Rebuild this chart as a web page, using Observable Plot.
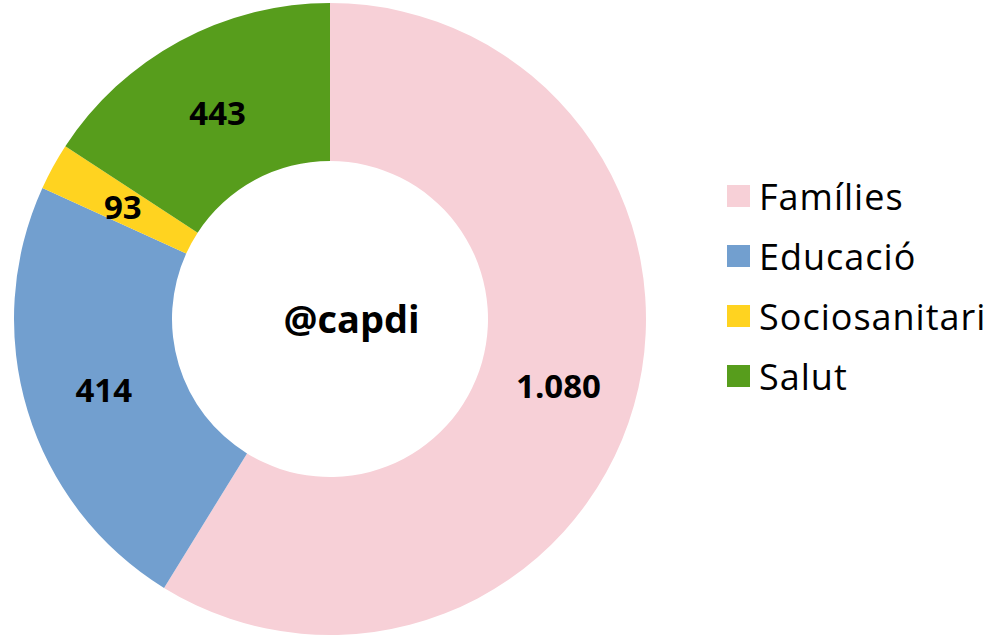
<!DOCTYPE html>
<html>
<head>
<meta charset="utf-8">
<script src="https://cdn.jsdelivr.net/npm/d3@7"></script>
<script src="https://cdn.jsdelivr.net/npm/@observablehq/plot@0.6"></script>
<style>
  html, body { margin: 0; padding: 0; background: #fff; }
  #wrap { position: relative; width: 995px; height: 636px; }
  #legend { position: absolute; left: 727px; top: 166px; font-family: "Open Sans", sans-serif; font-size: 36px; letter-spacing: 1px; color: #000; }
  .item { display: flex; align-items: center; height: 60px; }
  .sw { width: 23px; height: 22px; margin-right: 9px; }
</style>
</head>
<body>
<div id="wrap"></div>
<script>
// Categories, labelled values, and slice shares (% of the ring)
const categories = ["Famílies", "Educació", "Sociosanitari", "Salut"];
const values = [1080, 414, 93, 443];
const labels = ["1.080", "414", "93", "443"];
const shares = [58.8, 23.0, 2.4, 15.8];
const colors = ["#F7D0D7", "#729FCF", "#FFD320", "#579D1C"];
const centerLabel = "@capdi";

const rows = categories.map((name, i) => ({name, value: values[i], label: labels[i], share: shares[i]}));
const pie = d3.pie().sort(null).value(d => d.share)(rows);
const labelRows = pie.map(p => {
  const mid = (p.startAngle + p.endAngle) / 2;
  return {label: p.data.label, x: 0.75 * Math.sin(mid), y: 0.75 * Math.cos(mid)};
});

function donut(index, scales) {
  const cx = scales.x(0), cy = scales.y(0);
  const r = Math.abs(scales.x(1) - scales.x(0));
  const arc = d3.arc().innerRadius(r * 0.5).outerRadius(r);
  const g = d3.create("svg:g").attr("transform", `translate(${cx},${cy})`);
  g.selectAll("path").data(pie).join("path")
    .attr("d", arc)
    .attr("fill", (d, i) => colors[i]);
  return g.node();
}

const chart = Plot.plot({
  width: 995,
  height: 636,
  margin: 0,
  x: {domain: [-1, 1], range: [14, 646], axis: null},
  y: {domain: [-1, 1], range: [635, 3], axis: null},
  style: {background: "#fff"},
  marks: [
    donut,
    Plot.text(labelRows, {x: "x", y: "y", text: "label", dy: 3, fontSize: 33, fontWeight: "bold", fontFamily: "Open Sans", fill: "#000"}),
    Plot.text([centerLabel], {x: () => 0, y: () => 0, text: d => d, dx: 21, dy: 1, fontSize: 38, fontWeight: "bold", fontFamily: "Open Sans", fill: "#000"})
  ]
});

const wrap = document.getElementById("wrap");
wrap.appendChild(chart);
const legend = document.createElement("div");
legend.id = "legend";
categories.forEach((c, i) => {
  const item = document.createElement("div");
  item.className = "item";
  const sw = document.createElement("span");
  sw.className = "sw";
  sw.style.background = colors[i];
  const t = document.createElement("span");
  t.textContent = c;
  item.appendChild(sw);
  item.appendChild(t);
  legend.appendChild(item);
});
wrap.appendChild(legend);
</script>
</body>
</html>
